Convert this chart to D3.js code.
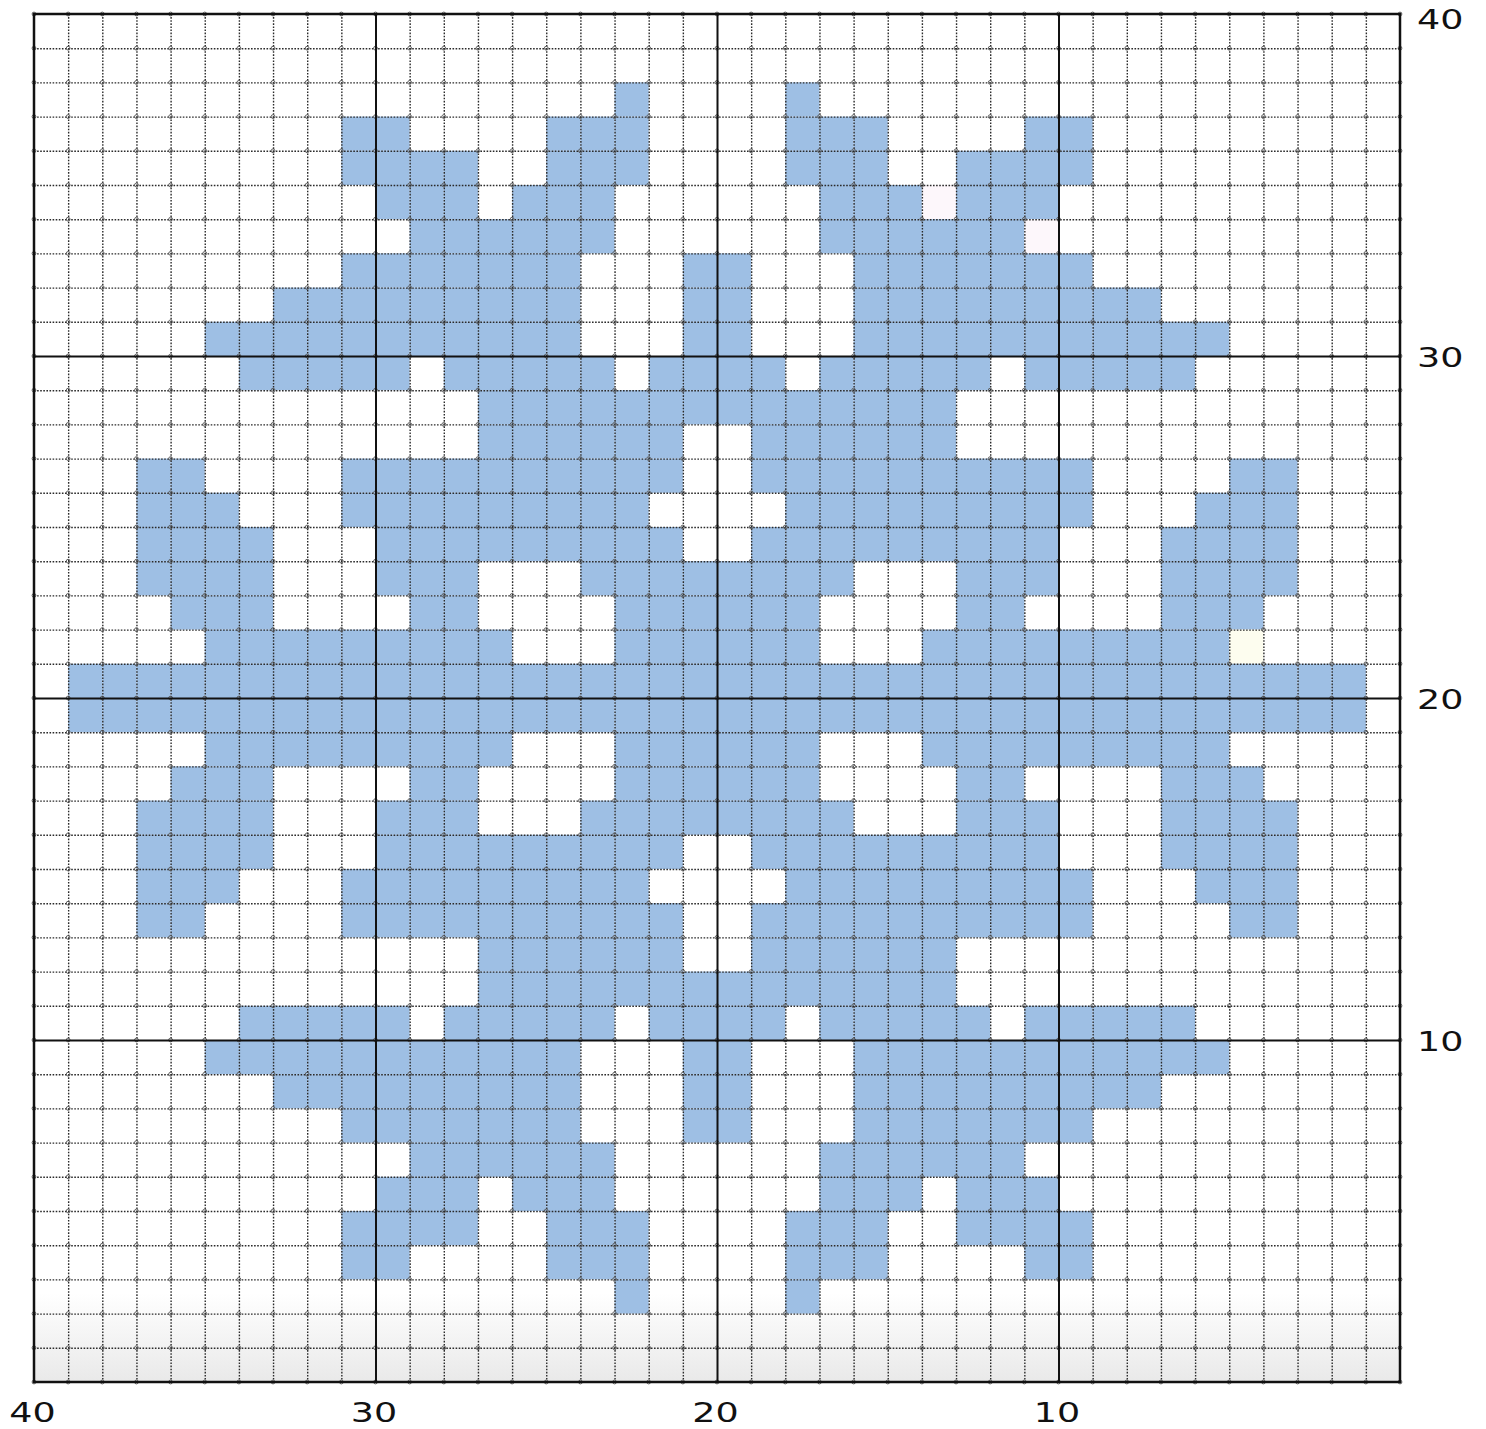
<!DOCTYPE html>
<html>
<head>
<meta charset="utf-8">
<script src="https://cdn.jsdelivr.net/npm/d3@7"></script>
<style>
  body { margin: 0; background: #fff; }
  svg { display: block; }
  .lbl text { font-family: 'DejaVu Sans', sans-serif; font-size: 27px; fill: #111; }
</style>
</head>
<body>
<div id="chart"></div>
<script>
// Chart rows, top to bottom, 40 stitches each (spaces only for reading)
// '#' = blue stitch, '.' = empty, 'p' / 'y' = faint tinted square
const PATTERN = [
  '.......... .......... .......... ..........',
  '.......... .......... .......... ..........',
  '.......... .......#.. ..#....... ..........',
  '.........# #....###.. ..###....# #.........',
  '.........# ###..###.. ..###..### #.........',
  '.......... ###.###... ...###p### ..........',
  '.......... .######... ...######p ..........',
  '.........# ######...# #...###### #.........',
  '.......### ######...# #...###### ###.......',
  '.....##### ######...# #...###### #####.....',
  '......#### #.#####.## ##.#####.# ####......',
  '.......... ...####### #######... ..........',
  '.......... ...######. .######... ..........',
  '...##....# #########. .######### #....##...',
  '...###...# ########.. ..######## #...###...',
  '...####... #########. .######### ...####...',
  '...####... ###...#### ####...### ...####...',
  '....###... .##....### ###....##. ...###....',
  '.....##### ####...### ###...#### #####y....',
  '.######### ########## ########## #########.',
  '.######### ########## ########## #########.',
  '.....##### ####...### ###...#### #####.....',
  '....###... .##....### ###....##. ...###....',
  '...####... ###...#### ####...### ...####...',
  '...####... #########. .######### ...####...',
  '...###...# ########.. ..######## #...###...',
  '...##....# #########. .######### #....##...',
  '.......... ...######. .######... ..........',
  '.......... ...####### #######... ..........',
  '......#### #.#####.## ##.#####.# ####......',
  '.....##### ######...# #...###### #####.....',
  '.......### ######...# #...###### ###.......',
  '.........# ######...# #...###### #.........',
  '.......... .######... ...######. ..........',
  '.......... ###.###... ...###.### ..........',
  '.........# ###..###.. ..###..### #.........',
  '.........# #....###.. ..###....# #.........',
  '.......... .......#.. ..#....... ..........',
  '.......... .......... .......... ..........',
  '.......... .......... .......... ..........'
];

const X_TICKS = [40, 30, 20, 10];
const Y_TICKS = [40, 30, 20, 10];
const MAJOR = [10, 20, 30];
const CELL_COLORS = { '#': '#9ebfe4', 'p': '#fdf7fb', 'y': '#fdfdef' };

// Dimensions
const WIDTH = 1486, HEIGHT = 1429;
const LEFT = 34, RIGHT = 1400, TOP = 14, BOTTOM = 1382;
const N = 40;

const x = d3.scaleLinear().domain([N, 0]).range([LEFT, RIGHT]);
const y = d3.scaleLinear().domain([N, 0]).range([TOP, BOTTOM]);

const svg = d3.select('#chart').append('svg')
    .attr('width', WIDTH)
    .attr('height', HEIGHT);

// faint grey shading at the bottom of the sheet
const grad = svg.append('defs').append('linearGradient')
    .attr('id', 'fade').attr('x1', 0).attr('x2', 0).attr('y1', 0).attr('y2', 1);
grad.append('stop').attr('offset', '0').attr('stop-color', '#ffffff');
grad.append('stop').attr('offset', '1').attr('stop-color', '#e9e9e9');

svg.append('rect')
    .attr('x', LEFT).attr('y', y(2.6))
    .attr('width', RIGHT - LEFT).attr('height', BOTTOM - y(2.6))
    .attr('fill', 'url(#fade)');

// Cells
const cells = [];
PATTERN.forEach((row, r) => {
    row.replace(/ /g, '').split('').forEach((k, c) => {
        if (CELL_COLORS[k]) cells.push({ r: r, c: c, k: k });
    });
});

svg.append('g').selectAll('rect').data(cells).enter().append('rect')
    .attr('x', d => x(N - d.c))
    .attr('y', d => y(N - d.r))
    .attr('width', d => x(N - d.c - 1) - x(N - d.c))
    .attr('height', d => y(N - d.r - 1) - y(N - d.r))
    .attr('fill', d => CELL_COLORS[d.k]);

// Dotted minor grid
const minor = d3.range(1, N).filter(v => v % 10 !== 0);

const gx = svg.append('g')
    .attr('transform', `translate(0,${TOP})`)
    .call(d3.axisTop(x).tickValues(minor).tickSize(-(BOTTOM - TOP)).tickFormat(''));
const gy = svg.append('g')
    .attr('transform', `translate(${LEFT},0)`)
    .call(d3.axisLeft(y).tickValues(minor).tickSize(-(RIGHT - LEFT)).tickFormat(''));

[gx, gy].forEach(g => {
    g.select('.domain').remove();
    g.selectAll('.tick line')
        .attr('stroke', '#2a2a2a')
        .attr('stroke-width', 1.4)
        .attr('stroke-dasharray', '1.6,1.5');
});

// little rings where the dotted lines cross
const knots = [];
d3.range(0, N + 1).forEach(i => d3.range(0, N + 1).forEach(j => knots.push([i, j])));
svg.append('g').selectAll('circle').data(knots).enter().append('circle')
    .attr('cx', d => x(d[0]))
    .attr('cy', d => y(d[1]))
    .attr('r', 1.9)
    .attr('fill', 'none')
    .attr('stroke', '#555')
    .attr('stroke-width', 0.9);

// Solid lines every ten stitches
const mx = svg.append('g')
    .attr('transform', `translate(0,${TOP})`)
    .call(d3.axisTop(x).tickValues(MAJOR).tickSize(-(BOTTOM - TOP)).tickFormat(''));
const my = svg.append('g')
    .attr('transform', `translate(${LEFT},0)`)
    .call(d3.axisLeft(y).tickValues(MAJOR).tickSize(-(RIGHT - LEFT)).tickFormat(''));
[mx, my].forEach(g => {
    g.select('.domain').remove();
    g.selectAll('.tick line').attr('stroke', '#111').attr('stroke-width', 2);
});

// Border
svg.append('rect')
    .attr('x', LEFT).attr('y', TOP)
    .attr('width', RIGHT - LEFT).attr('height', BOTTOM - TOP)
    .attr('fill', 'none')
    .attr('stroke', '#111')
    .attr('stroke-width', 2.5);

// Number labels
const SX = 1.35;

const right = svg.append('g').attr('class', 'lbl')
    .attr('transform', `translate(${RIGHT},0)`)
    .call(d3.axisRight(y).tickValues(Y_TICKS).tickSize(0).tickPadding(0));
right.select('.domain').remove();
right.selectAll('.tick text')
    .attr('x', 17 / SX)
    .attr('y', d => d === 40 ? 4 : 0)
    .attr('dy', '0.38em')
    .attr('transform', `scale(${SX},1)`);

const bottom = svg.append('g').attr('class', 'lbl')
    .attr('transform', `translate(0,${BOTTOM})`)
    .call(d3.axisBottom(x).tickValues(X_TICKS).tickSize(0).tickPadding(0));
bottom.select('.domain').remove();
bottom.selectAll('.tick text')
    .attr('x', -2 / SX)
    .attr('y', 21)
    .attr('dy', '0.71em')
    .attr('transform', `scale(${SX},1)`);
</script>
</body>
</html>
